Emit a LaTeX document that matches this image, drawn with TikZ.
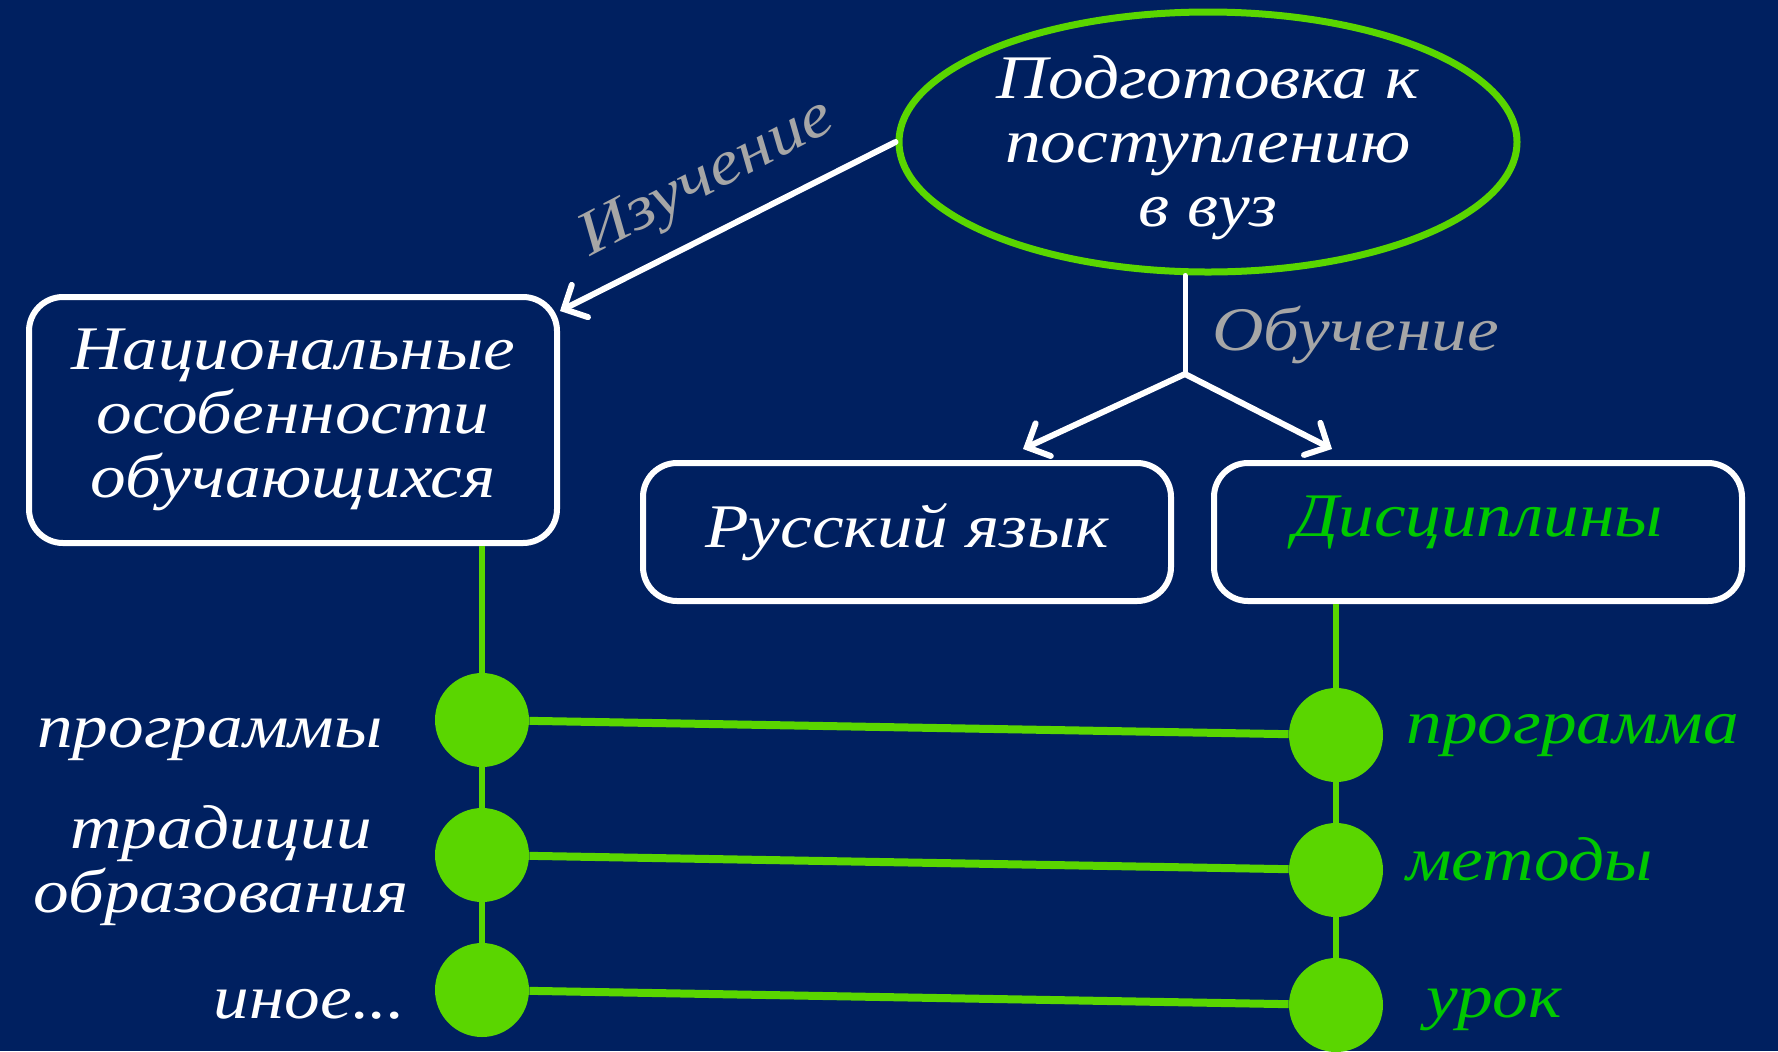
\documentclass[tikz,border=0pt]{standalone}
\usepackage{fontspec}
\newfontfamily\hand{Liberation Serif}[UprightFont={* Italic}, FakeStretch=1.15]
\usetikzlibrary{shapes.geometric, arrows.meta}
\definecolor{bgblue}{RGB}{0,32,96}
\definecolor{lime}{RGB}{90,214,0}
\definecolor{discgreen}{RGB}{0,200,0}
\definecolor{labgray}{RGB}{166,166,166}
\tikzset{
  txt/.style={font=\hand\fontsize{31}{32}\selectfont, align=center, inner sep=0pt},
  box/.style={txt, draw=white, line width=3pt, rounded corners=17pt, minimum width=264pt, text=white},
  goalst/.style={txt, ellipse, draw=lime, line width=3.5pt, inner xsep=-30pt, inner ysep=-30pt, minimum width=309pt, minimum height=130pt, text=white},
  lbl/.style={txt},
  wline/.style={draw=white, line width=2.5pt, line cap=round},
  warrow/.style={wline, line width=3pt, -{Straight Barb[length=9pt, width=18pt, line cap=round]}},
  dot/.style={circle, fill=lime, minimum size=47pt, inner sep=0pt},
  gline/.style={draw=lime, line width=3pt},
  hline/.style={draw=lime, line width=4pt}
}
\begin{document}
\begin{tikzpicture}[x=0.5pt, y=-0.5pt]
\fill[bgblue] (0,0) rectangle (1778,1051);
\useasboundingbox (0,0) rectangle (1778,1051);

% main nodes
\node[goalst] (goal) at (1208,142) {\raisebox{-4pt}[\height][\depth]{\begin{tabular}{@{}c@{}}Подготовка к\\поступлению\\в вуз\end{tabular}}};
\node[box, minimum height=123pt] (nat) at (293,420) {Национальные\\особенности\\обучающихся};
\node[box, minimum height=69pt] (rus) at (907,532) {Русский язык};
\node[box, minimum height=69pt, text=discgreen] (disc) at (1478,532) {\raisebox{5pt}[\height][\depth]{Дисциплины}};

% white connectors
\coordinate (br) at (1185,374);
\coordinate (tipL) at (1023,449);
\coordinate (tipR) at (1332,449);
\draw[warrow] (goal.west) -- ([yshift=-8.5pt]nat.north east);
\draw[wline] (br |- goal.south) -- (br);
\draw[warrow] (br) -- (tipL);
\draw[warrow] (br) -- (tipR);

% connector labels
\node[lbl, text=labgray, rotate=27.5] (izu) at (708,180) {Изучение};
\node[lbl, text=labgray, anchor=base west] (obu) at (1212,350) {Обучение};

% green dots
\node[dot] (L1) at (482,720) {};
\node[dot] (L2) at (482,855) {};
\node[dot] (L3) at (482,990) {};
\node[dot] (R1) at (1336,735) {};
\node[dot] (R2) at (1336,870) {};
\node[dot] (R3) at (1336,1005) {};

% green lines
\draw[gline] (nat.south -| L1) -- (L1);
\draw[gline] (L1) -- (L2);
\draw[gline] (L2) -- (L3);
\draw[gline] (disc.south -| R1) -- (R1);
\draw[gline] (R1) -- (R2);
\draw[gline] (R2) -- (R3);
\draw[hline] (L1) -- (R1);
\draw[hline] (L2) -- (R2);
\draw[hline] (L3) -- (R3);

% side labels
\node[lbl, text=white, anchor=base east] (a1) at (383,747) {программы};
\node[lbl, text=white] (a2) at (221,866) {традиции\\образования};
\node[lbl, text=white, anchor=base east] (a3) at (406,1018) {иное...};
\node[lbl, text=discgreen, anchor=base west] (b1) at (1406,743) {программа};
\node[lbl, text=discgreen, anchor=base west] (b2) at (1406,880) {методы};
\node[lbl, text=discgreen, anchor=base west] (b3) at (1426,1017) {урок};
\end{tikzpicture}
\end{document}
